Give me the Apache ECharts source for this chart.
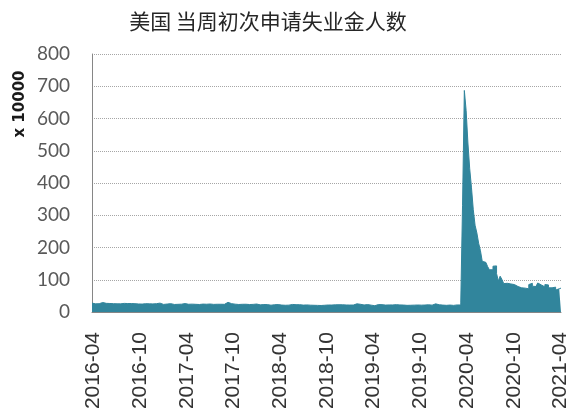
<!DOCTYPE html>
<html>
<head>
<meta charset="utf-8">
<script src="https://cdn.jsdelivr.net/npm/echarts@6/dist/echarts.min.js"></script>
<style>
html,body{margin:0;padding:0;background:#fff;}
#c{width:576px;height:415px;}
</style>
</head>
<body>
<div id="c"></div>
<script>
// Weekly US initial jobless claims (unit: 10000 persons), week-ending Saturdays
const firstWeek = '2016-03-26';
const vals2016 = [27.6,26.7,25.3,24.8,25.7,27.4,29.4,27.8,26.8,26.7,26.4,27.7,25.9,26.8,25.4,25.3,25.3,26.6,26.7,26.6,26.2,26.1,26.3,26.0,25.8,25.4,25.0,24.9,24.6,26.0,25.8,26.6,25.4,23.5,25.1,26.8,25.8,25.4,27.5,26.5,23.5];
const vals2017 = [24.7,24.7,23.4,25.9,24.6,23.4,24.2,23.8,22.3,24.3,24.3,26.1,25.9,24.0,23.3,24.4,25.7,23.8,23.2,23.3,23.6,24.5,24.0,24.1,24.4,24.8,24.8,23.6,24.4,24.0,23.3,24.0,23.5,23.8,26.0,29.9,28.2,25.9,26.0,24.3,22.2,23.3,23.3,23.9,25.1,24.0,23.9,23.2,24.2,23.6,24.8,24.7];
const vals2018 = [24.8,22.1,23.2,23.1,22.1,22.9,22.4,21.1,22.8,22.6,22.7,23.0,22.8,21.5,22.1,20.9,21.2,21.3,22.2,23.4,22.1,22.7,21.8,22.7,23.1,21.4,20.7,21.9,21.4,21.2,21.6,20.8,21.4,20.5,20.6,20.2,21.4,20.9,21.0,21.7,21.2,21.6,21.9,22.3,22.1,22.5,23.4,22.4,20.9,21.8,22.5,21.6];
const vals2019 = [23.3,21.6,20.0,25.3,23.0,23.9,22.8,21.8,22.5,23.0,21.5,21.2,20.8,19.6,19.3,23.0,23.1,22.8,21.2,21.5,21.3,21.9,22.1,21.9,21.8,22.8,22.1,21.9,20.9,21.6,21.5,20.6,21.3,20.9,21.5,21.3,20.8,21.7,22.0,21.3,21.8,21.6,21.9,22.4,21.7,21.3,20.4,25.2,23.3,22.4,22.3,21.4];
const vals2020 = [21.4,20.7,21.0,21.5,21.1,20.5,21.4,21.9,21.6,21.7,28.2,
  331,687,625,524,444,385,317,269,245,213,190,157,154,148,141,131,131,142,143,119,96,111,101,88,89,87,87,85,85,90,79,76,75,71,74,78,72,85,89,80,79];
const vals2021 = [79,90,84,81,78,85,84,75,75,71,77,68,72,74];
const yTicks = [0,100,200,300,400,500,600,700,800];
const xLabelMonths = ['2016-04','2016-10','2017-04','2017-10','2018-04','2018-10','2019-04','2019-10','2020-04','2020-10','2021-04'];
const titleText = '美国 当周初次申请失业金人数';
const yUnit = 'x 10000';

const values = [].concat(vals2016, vals2017, vals2018, vals2019, vals2020, vals2021);
const p = firstWeek.split('-').map(Number);
const t0 = Date.UTC(p[0], p[1]-1, p[2]);
const DAY = 86400000;
const seriesData = values.map((v,i) => [t0 + i*7*DAY, v]);
const labelValues = xLabelMonths.map(s => { const q = s.split('-').map(Number); return Date.UTC(q[0], q[1]-1, 1); });
const xMin = t0, xMax = t0 + (values.length-1)*7*DAY;

const color = '#31859C';
const chart = echarts.init(document.getElementById('c'), null, {renderer:'canvas'});
chart.setOption({
  animation:false,
  backgroundColor:'#fff',
  title:{
    text:titleText, left:263, top:6, textAlign:'center',
    textStyle:{fontFamily:'Noto Sans CJK SC', fontSize:21, fontWeight:'normal', color:'#262626'}
  },
  graphic:[{
    type:'text', x:20, y:104, rotation:Math.PI/2,
    style:{text:yUnit, fontFamily:'DejaVu Sans', fontWeight:'bold', fontSize:15, fill:'#1a1a1a', align:'center', verticalAlign:'middle'}
  }],
  grid:{left:92, right:15, top:54, bottom:103, containLabel:false},
  xAxis:{
    type:'value', min:xMin, max:xMax, scale:true,
    axisLine:{show:true, lineStyle:{color:'#868686', width:1}},
    axisTick:{show:false},
    splitLine:{show:false},
    axisLabel:{
      customValues:labelValues, rotate:90, margin:20,
      fontFamily:'Liberation Sans', fontSize:21, color:'#333',
      formatter:function(v){ const d=new Date(v); return d.getUTCFullYear()+'-'+String(d.getUTCMonth()+1).padStart(2,'0'); }
    }
  },
  yAxis:{
    type:'value', min:yTicks[0], max:yTicks[yTicks.length-1], interval:yTicks[1]-yTicks[0],
    axisLine:{show:true, lineStyle:{color:'#868686', width:1}},
    axisTick:{show:false},
    splitLine:{show:true, lineStyle:{color:'#a6a6a6', type:'dotted', width:1}},
    axisLabel:{margin:22, fontFamily:'Lato', fontSize:19, color:'#595959'}
  },
  series:[{
    type:'line', step:'start', data:seriesData, symbol:'none',
    lineStyle:{color:color, width:1},
    areaStyle:{color:color, opacity:1},
    itemStyle:{color:color}
  }]
});
</script>
</body>
</html>
